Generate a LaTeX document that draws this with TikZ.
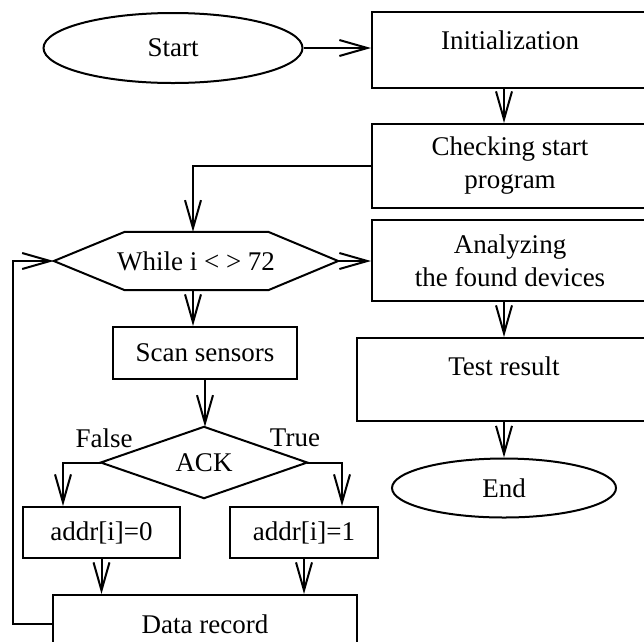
\documentclass[tikz,border=0pt]{standalone}
\usepackage{fontspec}
\setmainfont{Liberation Serif}
\usetikzlibrary{arrows.meta,shapes.geometric}

\begin{document}
\begin{tikzpicture}[x=1pt,y=-1pt,
  line/.style={line width=2pt},
  flow/.style={line, -{Straight Barb[length=28pt,width=16pt]}},
  txt/.style={font=\fontsize{27}{33}\selectfont, align=center},
  box/.style={draw, line width=2pt, rectangle, inner sep=0pt, txt},
  oval/.style={draw, line width=2pt, ellipse, inner sep=0pt, txt},
  ]
\useasboundingbox (0,0) rectangle (644,641);
\clip (0,0) rectangle (644,641);

% right column
\node[oval, minimum width=259pt, minimum height=70pt] (start) at (173,48) {Start};
\node[box, minimum width=276pt, minimum height=76pt] (init) at (510,50) {};
\node[txt] (initT) at (510,40) {Initialization};
\node[box, minimum width=276pt, minimum height=84pt] (check) at (510,166) {Checking start\\program};
\node[box, minimum width=276pt, minimum height=81pt] (analyze) at (510,260.5) {Analyzing\\the found devices};
\node[box, minimum width=294pt, minimum height=83pt] (test) at (504,379.5) {};
\node[txt] (testT) at (504,366) {Test result};
\node[oval, minimum width=224pt, minimum height=59pt] (end) at (504,488) {End};

% loop body
\node[txt, minimum width=284pt, minimum height=58pt, inner sep=0pt] (hex) at (196,261) {While i < > 72};
\draw[line] (hex.west) -- ([xshift=71pt]hex.north west) -- ([xshift=-70pt]hex.north east)
  -- (hex.east) -- ([xshift=-70pt]hex.south east) -- ([xshift=71pt]hex.south west) -- cycle;
\node[box, minimum width=184pt, minimum height=52pt] (scan) at (205,353) {Scan sensors};
\node[txt, minimum width=206pt, minimum height=71pt, inner sep=0pt] (ack) at (204,462.5) {ACK};
\draw[line] (ack.north) -- (ack.east) -- (ack.south) -- (ack.west) -- cycle;
\node[txt] (false) at (104,438) {False};
\node[txt] (true) at (295,438) {True};
\node[box, minimum width=157pt, minimum height=51pt] (addr0) at (101.5,532.5) {addr[i]=0};
\node[box, minimum width=148pt, minimum height=51pt] (addr1) at (304,532.5) {addr[i]=1};
\node[box, minimum width=304pt, minimum height=58pt] (data) at (205,624) {Data record};

% connectors
\draw[flow] (start.east) -- (start.east -| init.west);
\draw[flow] (init.south -| end.north) -- (check.north -| end.north);
\draw[flow] (check.west) -| ([xshift=-3pt]hex.north);
\draw[flow] (hex.east) -- (hex.east -| analyze.west);
\draw[flow] (analyze.south -| end.north) -- (test.north -| end.north);
\draw[flow] (test.south -| end.north) -- (end.north);
\draw[flow] ([xshift=-3pt]hex.south) -- ([xshift=-3pt]hex.south |- scan.north);
\draw[flow] (scan.south) -- (scan.south |- ack.north);
\draw[flow] (ack.west) -| ([xshift=-38.5pt]addr0.north);
\draw[flow] (ack.east) -| ([xshift=38pt]addr1.north);
\draw[flow] (addr0.south) -- (addr0.south |- data.north);
\draw[flow] (addr1.south) -- (addr1.south |- data.north);
\draw[flow] (data.west) -- ++(-39,0) |- (hex.west);
\end{tikzpicture}
\end{document}
